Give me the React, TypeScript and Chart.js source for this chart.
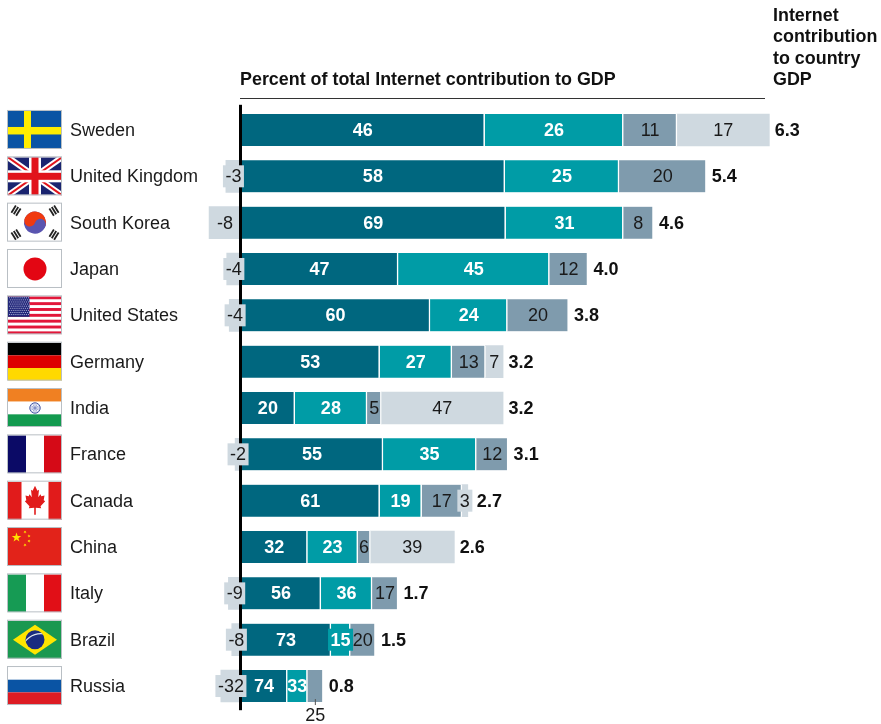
import React, { useEffect, useRef } from "react";
import { Chart, registerables } from "chart.js";

Chart.register(...registerables);

const countries = ["Sweden", "United Kingdom", "South Korea", "Japan", "United States", "Germany", "India", "France", "Canada", "China", "Italy", "Brazil", "Russia"];
const totals = ["6.3", "5.4", "4.6", "4.0", "3.8", "3.2", "3.2", "3.1", "2.7", "2.6", "1.7", "1.5", "0.8"];

// Segment lengths, in points of GDP
const negValues = [null, -0.18, -0.38, -0.17, -0.14, null, null, -0.07, null, null, -0.15, -0.11, -0.24];
const aValues = [2.9, 3.14, 3.15, 1.87, 2.25, 1.65, 0.64, 1.69, 1.65, 0.79, 0.95, 1.07, 0.55];
const bValues = [1.65, 1.36, 1.4, 1.8, 0.92, 0.86, 0.86, 1.11, 0.5, 0.6, 0.61, 0.23, 0.24];
const cValues = [0.64, 1.04, 0.36, 0.46, 0.73, 0.4, 0.17, 0.38, 0.48, 0.15, 0.31, 0.3, 0.19];
const dValues = [1.1, null, null, null, null, 0.21, 1.45, null, 0.07, 1.0, null, null, null];

// Printed percent labels
const negLabels = [null, "-3", "-8", "-4", "-4", null, null, "-2", null, null, "-9", "-8", "-32"];
const aLabels = ["46", "58", "69", "47", "60", "53", "20", "55", "61", "32", "56", "73", "74"];
const bLabels = ["26", "25", "31", "45", "24", "27", "28", "35", "19", "23", "36", "15", "33"];
const cLabels = ["11", "20", "8", "12", "20", "13", "5", "12", "17", "6", "17", "20", null];
const dLabels = ["17", null, null, null, null, "7", "47", null, "3", "39", null, null, null];
const russiaOutsideLabel = "25";

const titleText = "Percent of total Internet contribution to GDP";
const sideTitle = ["Internet", "contribution", "to country", "GDP"];

const DARK = "#00677f";
const TEAL = "#009ca6";
const GREY = "#7f9bad";
const LIGHT = "#cfd9e0";
const INK = "#1a1a1a";
const FONT = '"Liberation Sans", Arial, sans-serif';

type C = CanvasRenderingContext2D;

function star(c: C, x: number, y: number, r: number, rot = -Math.PI / 2) {
  c.beginPath();
  for (let i = 0; i < 10; i++) {
    const a = rot + (i * Math.PI) / 5;
    const q = i % 2 ? r * 0.4 : r;
    c.lineTo(x + Math.cos(a) * q, y + Math.sin(a) * q);
  }
  c.closePath();
  c.fill();
}
function rect(c: C, col: string, x: number, y: number, w: number, h: number) {
  c.fillStyle = col;
  c.fillRect(x, y, w, h);
}
function vTri(c: C, a: string, b: string, d: string) {
  const w = 54, h = 38;
  rect(c, a, 0, 0, w / 3, h);
  rect(c, b, w / 3, 0, w / 3, h);
  rect(c, d, (2 * w) / 3, 0, w / 3, h);
}
function hTri(c: C, a: string, b: string, d: string) {
  const w = 54, h = 38;
  rect(c, a, 0, 0, w, h / 3);
  rect(c, b, 0, h / 3, w, h / 3);
  rect(c, d, 0, (2 * h) / 3, w, h / 3);
}
function seg(c: C, col: string, lw: number, x1: number, y1: number, x2: number, y2: number) {
  c.strokeStyle = col;
  c.lineWidth = lw;
  c.beginPath();
  c.moveTo(x1, y1);
  c.lineTo(x2, y2);
  c.stroke();
}

const flags: ((c: C) => void)[] = [
  (c) => {
    rect(c, "#0a54a4", 0, 0, 54, 38);
    rect(c, "#ffed00", 16, 0, 7, 38);
    rect(c, "#ffed00", 0, 16, 54, 7.5);
  },
  (c) => {
    rect(c, "#1a2470", 0, 0, 54, 38);
    seg(c, "#fff", 6, 0, 0, 54, 38);
    seg(c, "#fff", 6, 54, 0, 0, 38);
    seg(c, "#e1141c", 2, 0, 0, 54, 38);
    seg(c, "#e1141c", 2, 54, 0, 0, 38);
    rect(c, "#fff", 21, 0, 12, 38);
    rect(c, "#fff", 0, 13, 54, 12);
    rect(c, "#e1141c", 23.5, 0, 7, 38);
    rect(c, "#e1141c", 0, 15.5, 54, 7);
  },
  (c) => {
    rect(c, "#fff", 0, 0, 54, 38);
    const cx = 27, cy = 19, r = 11, th = 0.1 * Math.PI;
    c.save();
    c.translate(cx, cy);
    c.rotate(th);
    c.fillStyle = "#5a55b0";
    c.beginPath();
    c.arc(0, 0, r, 0, Math.PI * 2);
    c.fill();
    c.fillStyle = "#f03a10";
    c.beginPath();
    c.arc(0, 0, r, Math.PI, Math.PI * 2);
    c.fill();
    c.beginPath();
    c.arc(-r / 2, 0, r / 2, 0, Math.PI * 2);
    c.fill();
    c.fillStyle = "#5a55b0";
    c.beginPath();
    c.arc(r / 2, 0, r / 2, 0, Math.PI * 2);
    c.fill();
    c.restore();
    const corners = [[8, 7], [46, 7], [8, 31], [46, 31]];
    for (const [x, y] of corners) {
      const len = Math.hypot(cx - x, cy - y);
      const ux = (cx - x) / len, uy = (cy - y) / len;
      for (const o of [-2.8, 0, 2.8]) {
        const mx = x + ux * o, my = y + uy * o;
        seg(c, "#222", 1.8, mx - uy * 4.2, my + ux * 4.2, mx + uy * 4.2, my - ux * 4.2);
      }
    }
  },
  (c) => {
    rect(c, "#fff", 0, 0, 54, 38);
    c.fillStyle = "#e30613";
    c.beginPath();
    c.arc(27, 19, 11.5, 0, Math.PI * 2);
    c.fill();
  },
  (c) => {
    rect(c, "#fff", 0, 0, 54, 38);
    for (let i = 0; i < 13; i += 2) rect(c, "#e2173a", 0, (i * 38) / 13, 54, 38 / 13);
    rect(c, "#22277a", 0, 0, 21.5, 20.5);
    c.fillStyle = "#c5c9e6";
    for (let r = 0; r < 9; r++) {
      for (let k = 0; k < 11; k++) c.fillRect(1 + k * 1.9 + (r % 2 ? 0.9 : 0), 1 + r * 2.1, 0.9, 0.9);
    }
  },
  (c) => hTri(c, "#000", "#dd0000", "#ffd900"),
  (c) => {
    hTri(c, "#f08022", "#fff", "#139a4f");
    c.strokeStyle = "#3c4f9f";
    c.lineWidth = 1;
    c.beginPath();
    c.arc(27, 19, 5.2, 0, Math.PI * 2);
    c.stroke();
    for (let i = 0; i < 12; i++) {
      const a = (i * Math.PI) / 6;
      seg(c, "#7d8ac4", 0.7, 27, 19, 27 + Math.cos(a) * 5, 19 + Math.sin(a) * 5);
    }
  },
  (c) => vTri(c, "#0b0a66", "#fff", "#d50a17"),
  (c) => {
    rect(c, "#fff", 0, 0, 54, 38);
    rect(c, "#e11b1b", 0, 0, 13.5, 38);
    rect(c, "#e11b1b", 40.5, 0, 13.5, 38);
    c.fillStyle = "#e11b1b";
    const half = [[0, -15], [2.4, -10], [4, -11], [3.2, -3.5], [5.5, -6.5], [6.3, -4.5], [9.5, -5.2], [8.7, -0.5], [10.2, 0.5], [5.5, 5.5], [6.2, 7.5], [0.8, 7], [0.8, 14]];
    c.beginPath();
    for (const [x, y] of half) c.lineTo(27 + x, 19 + y);
    for (const [x, y] of [...half].reverse()) c.lineTo(27 - x, 19 + y);
    c.closePath();
    c.fill();
  },
  (c) => {
    rect(c, "#e2231a", 0, 0, 54, 38);
    c.fillStyle = "#ffe000";
    star(c, 8.5, 9.5, 5);
    star(c, 17, 4, 1.7, 0.3);
    star(c, 21, 8, 1.7, 0.7);
    star(c, 21, 13, 1.7, 0);
    star(c, 17, 17, 1.7, 0.4);
  },
  (c) => vTri(c, "#169b54", "#fff", "#e10f17"),
  (c) => {
    rect(c, "#1a9850", 0, 0, 54, 38);
    c.fillStyle = "#ffe500";
    c.beginPath();
    c.moveTo(27, 4);
    c.lineTo(49, 19);
    c.lineTo(27, 34);
    c.lineTo(5, 19);
    c.closePath();
    c.fill();
    c.fillStyle = "#1a2c80";
    c.beginPath();
    c.arc(27, 19, 9.5, 0, Math.PI * 2);
    c.fill();
    c.save();
    c.beginPath();
    c.arc(27, 19, 9.5, 0, Math.PI * 2);
    c.clip();
    c.strokeStyle = "#dfe6ee";
    c.lineWidth = 1.2;
    c.beginPath();
    c.arc(33, 33, 20, Math.PI * 1.05, Math.PI * 1.6);
    c.stroke();
    c.restore();
  },
  (c) => hTri(c, "#fff", "#0a54a4", "#dd1c24"),
];

const overlay = {
  id: "overlay",
  afterDraw(chart: any) {
    const c: C = chart.ctx;
    const xs = chart.scales.x;
    const ys = chart.scales.y;
    const zero = xs.getPixelForValue(0);
    const rowEnds = countries.map(() => zero);
    c.save();

    // zero axis
    c.fillStyle = "#000";
    c.fillRect(zero - 2, chart.chartArea.top - 2, 3, chart.chartArea.bottom - chart.chartArea.top + 3);

    // segment labels
    const labelSets = [negLabels, aLabels, bLabels, cLabels, dLabels];
    const fills = [LIGHT, DARK, TEAL, GREY, LIGHT];
    const whiteText = [false, true, true, false, false];
    c.textBaseline = "middle";
    c.textAlign = "center";
    [1, 2, 3, 4].forEach((d) => {
      const vals = [aValues, bValues, cValues, dValues][d - 1];
      vals.forEach((v, i) => {
        if (v) rowEnds[i] = Math.max(rowEnds[i], chart.getDatasetMeta(d).data[i].x);
      });
    });
    labelSets.forEach((labels, d) => {
      const meta = chart.getDatasetMeta(d);
      labels.forEach((t, i) => {
        if (!t) return;
        const el = meta.data[i];
        const mid = (el.x + el.base) / 2;
        const span = Math.abs(el.x - el.base);
        c.font = `${whiteText[d] ? "bold " : ""}18px ${FONT}`;
        const w = c.measureText(t).width;
        if (w > span) {
          c.fillStyle = fills[d];
          c.fillRect(mid - w / 2 - 2.5, el.y - 11, w + 5, 22);
          if (d > 0) rowEnds[i] = Math.max(rowEnds[i], mid + w / 2 + 2.5 - 1);
        }
        c.fillStyle = whiteText[d] ? "#fff" : INK;
        c.fillText(t, mid, el.y + 1);
      });
    });

    // Russia's label sits under its bar
    const last = countries.length - 1;
    const rEl = chart.getDatasetMeta(3).data[last];
    const rx = (rEl.x + rEl.base) / 2;
    c.fillStyle = "#555";
    c.fillRect(rx - 0.5, rEl.y + 13, 1, 6);
    c.fillStyle = INK;
    c.font = `18px ${FONT}`;
    c.fillText(russiaOutsideLabel, rx, rEl.y + 30);

    // totals
    c.textAlign = "left";
    c.font = `bold 18px ${FONT}`;
    totals.forEach((t, i) => {
      c.fillStyle = "#111";
      c.fillText(t, rowEnds[i] + 5.5, ys.getPixelForValue(i) + 1);
    });

    // titles
    c.font = `bold 17.9px ${FONT}`;
    c.fillStyle = "#111";
    c.fillText(titleText, zero - 1, 80);
    sideTitle.forEach((t, i) => c.fillText(t, 773, 16 + i * 21.4));
    c.fillStyle = "#333";
    c.fillRect(zero - 1, 98, 525, 1);

    // flags
    countries.forEach((_, i) => {
      const y = ys.getPixelForValue(i);
      c.save();
      c.translate(8, y - 19);
      c.save();
      c.beginPath();
      c.rect(0, 0, 54, 38);
      c.clip();
      flags[i](c);
      c.restore();
      c.strokeStyle = "#b9bfc4";
      c.lineWidth = 1;
      c.strokeRect(-0.5, -0.5, 54, 38);
      c.restore();
    });
    c.restore();
  },
};

export default function App() {
  const ref = useRef<HTMLCanvasElement>(null);
  useEffect(() => {
    document.body.style.margin = "0";
    const edge = { left: 0, right: 1.5, top: 0, bottom: 0 };
    const mk = (label: string, data: any[], color: string, borderWidth: any) => ({
      label,
      data,
      backgroundColor: color,
      borderColor: "#fff",
      borderWidth,
      borderSkipped: false,
      barThickness: 32,
    });
    const chart = new Chart(ref.current!, {
      type: "bar",
      data: {
        labels: countries,
        datasets: [
          mk("Negative", negValues, LIGHT, 0),
          mk("Segment 1", aValues, DARK, edge),
          mk("Segment 2", bValues, TEAL, edge),
          mk("Segment 3", cValues, GREY, edge),
          mk("Segment 4", dValues, LIGHT, 0),
        ],
      },
      options: {
        indexAxis: "y",
        responsive: false,
        animation: false,
        layout: { padding: { left: 70, right: 1.6, top: 106.8, bottom: 14.8 } },
        plugins: { legend: { display: false }, tooltip: { enabled: false }, title: { display: false } },
        scales: {
          x: { stacked: true, display: false, min: -0.4, max: 7.6 },
          y: {
            stacked: true,
            grid: { display: false },
            border: { display: false },
            afterFit: (s: any) => {
              s.width = 137.4;
            },
            ticks: {
              autoSkip: false,
              crossAlign: "far",
              color: INK,
              padding: 0,
              labelOffset: 1,
              font: { family: FONT, size: 18 },
            },
          },
        },
      },
      plugins: [overlay],
    } as any);
    return () => chart.destroy();
  }, []);
  return <canvas ref={ref} width={881} height={724} style={{ display: "block" }} />;
}
